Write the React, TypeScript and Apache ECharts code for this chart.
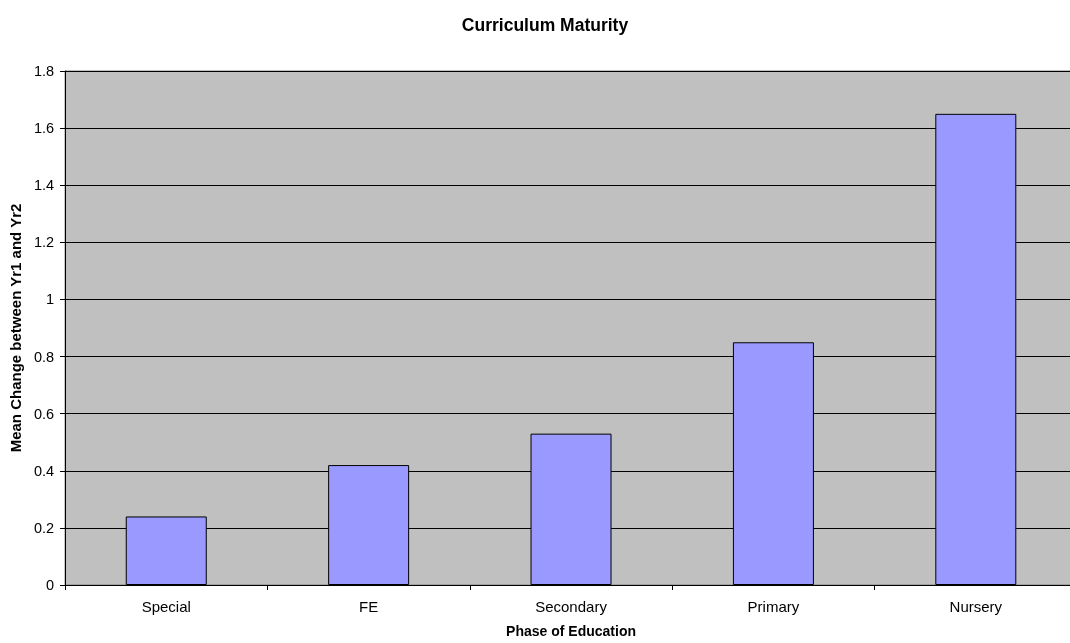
import React, { useEffect, useRef } from "react";
import * as echarts from "echarts";

const categories = ["Special", "FE", "Secondary", "Primary", "Nursery"];
const values = [0.24, 0.42, 0.53, 0.85, 1.65];
const yTicks = { min: 0, max: 1.8, interval: 0.2 };

export default function App() {
  const ref = useRef<HTMLDivElement>(null);
  useEffect(() => {
    if (!ref.current) return;
    const chart = echarts.init(ref.current, undefined, { renderer: "svg" });
    const font = "'Liberation Sans', Arial, sans-serif";
    chart.setOption({
      animation: false,
      title: {
        text: "Curriculum Maturity",
        left: 540,
        top: 11,
        textAlign: "center",
        textStyle: { fontFamily: font, fontSize: 17.5, fontWeight: "bold", color: "#000" },
      },
      grid: {
        left: 65,
        right: 13,
        top: 71,
        bottom: 58,
        show: true,
        backgroundColor: "#C0C0C0",
        borderColor: "#808080",
        borderWidth: 1,
      },
      xAxis: {
        type: "category",
        data: categories,
        name: "Phase of Education",
        nameLocation: "middle",
        nameGap: 39,
        nameTextStyle: { fontFamily: font, fontSize: 14, fontWeight: "bold", color: "#000" },
        axisLine: { lineStyle: { color: "#000", width: 1 } },
        axisTick: { show: true, alignWithLabel: false, length: 5, lineStyle: { color: "#000" } },
        axisLabel: { fontFamily: font, fontSize: 15, color: "#000", margin: 14 },
      },
      yAxis: {
        type: "value",
        min: yTicks.min,
        max: yTicks.max,
        interval: yTicks.interval,
        name: "Mean Change between Yr1 and Yr2",
        nameLocation: "middle",
        nameGap: 38,
        nameTextStyle: { fontFamily: font, fontSize: 15, fontWeight: "bold", color: "#000" },
        axisLine: { show: true, lineStyle: { color: "#000", width: 1 } },
        axisTick: { show: true, length: 5, lineStyle: { color: "#000" } },
        axisLabel: {
          fontFamily: font,
          fontSize: 14.5,
          color: "#000",
          margin: 11,
          formatter: (v: number) => String(parseFloat(v.toFixed(1))),
        },
        splitLine: { show: true, lineStyle: { color: "#000", width: 1 } },
      },
      series: [
        {
          type: "bar",
          data: values,
          barWidth: 81,
          itemStyle: { color: "#9999FF", borderColor: "#000", borderWidth: 1 },
        },
      ],
    });
    return () => chart.dispose();
  }, []);
  return (
    <div style={{ position: "fixed", left: 0, top: 0, width: 1070, height: 643, overflow: "hidden" }}>
      <div ref={ref} style={{ width: 1090, height: 643 }} />
    </div>
  );
}
